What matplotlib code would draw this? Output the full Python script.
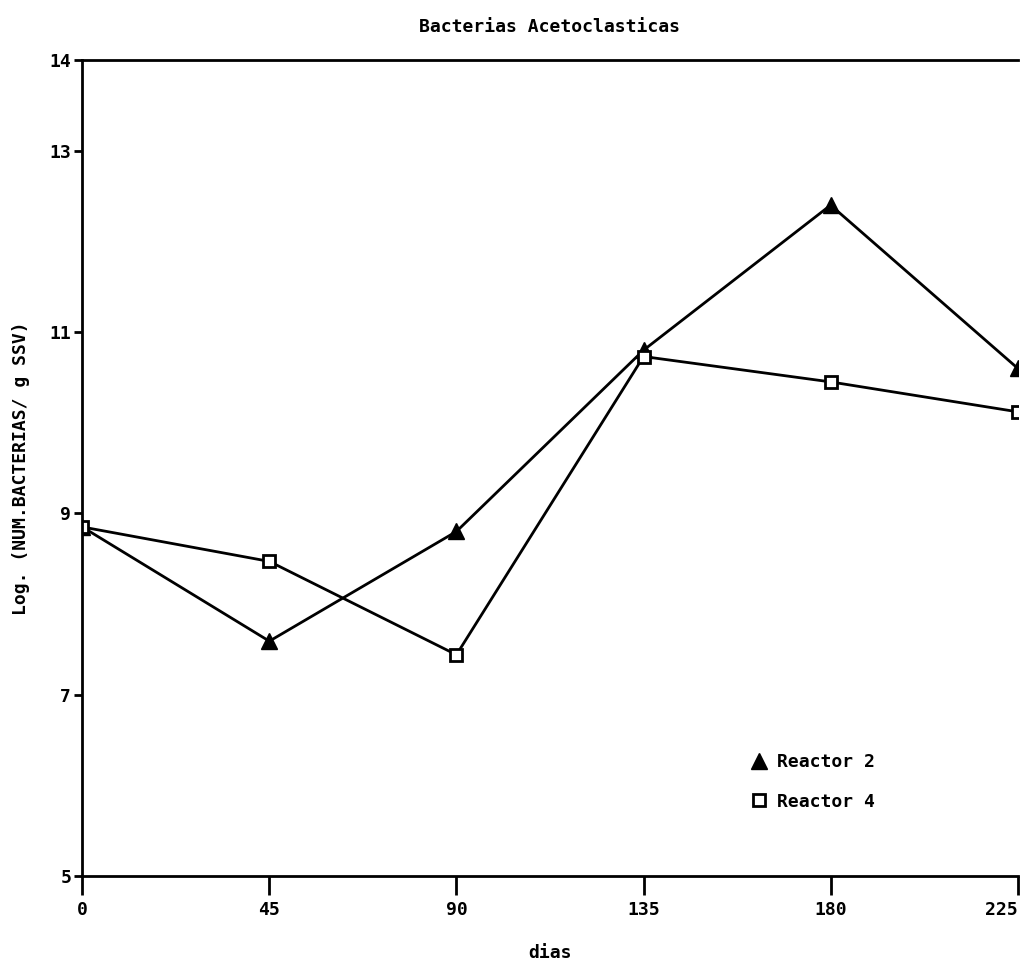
import numpy as np
import matplotlib.pyplot as plt

dias = [0, 45, 90, 135, 180, 225]
reactor2 = [8.85, 7.59, 8.80, 10.80, 12.40, 10.60]
reactor4 = [8.85, 8.47, 7.44, 10.73, 10.45, 10.12]
yticks = [5, 7, 9, 11, 13, 14]

plt.rcParams['font.family'] = 'DejaVu Sans Mono'
plt.rcParams['font.weight'] = 'bold'

fig = plt.figure(figsize=(10.28, 9.69), dpi=100)
ax = fig.add_axes([0.08, 0.096, 0.91, 0.842])

ax.plot(dias, reactor2, color='black', lw=2, marker='^', ms=11, label='Reactor 2')
ax.plot(dias, reactor4, color='black', lw=2, marker='s', ms=9, mfc='white', mew=2, label='Reactor 4')

ax.set_xlim(0, 225)
ax.set_ylim(5, 14)
ax.set_xticks(dias)
ax.set_yticks(yticks)
ax.tick_params(axis='x', length=14, width=2, labelsize=13, pad=4)
ax.tick_params(axis='y', length=6, width=2, labelsize=13, pad=2)
ax.get_xticklabels()[-1].set_horizontalalignment('right')
for s in ['left', 'bottom', 'top']:
    ax.spines[s].set_linewidth(2)
ax.spines['right'].set_visible(False)

ax.set_title('Bacterias Acetoclasticas', fontsize=13, fontweight='bold', pad=20)
ax.set_xlabel('dias', fontsize=13, fontweight='bold', labelpad=18)
ax.set_ylabel('Log. (NUM.BACTERIAS/ g SSV)', fontsize=13, fontweight='bold', labelpad=14)

ax.legend(loc='lower right', bbox_to_anchor=(0.865, 0.06), frameon=False, fontsize=13,
          handlelength=1.2, handletextpad=0.4, labelspacing=1.2)
for h in ax.get_legend().get_lines():
    h.set_linestyle('none')

fig.savefig('out.png', dpi=100, facecolor='white')
